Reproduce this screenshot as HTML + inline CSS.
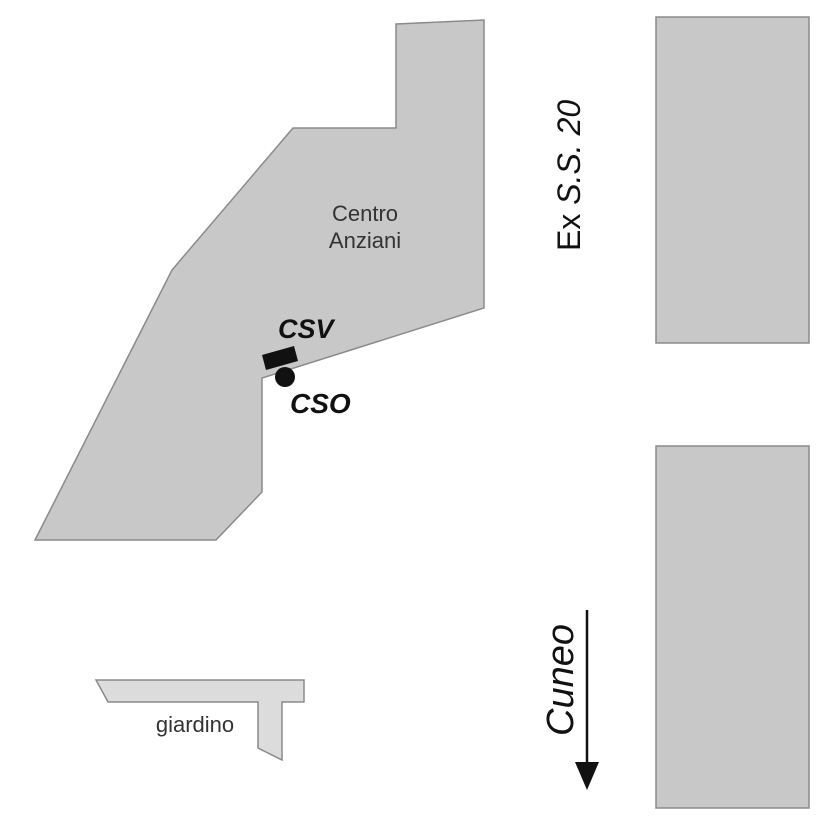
<!DOCTYPE html>
<html><head><style>body{margin:0;background:#fff}svg{display:block}</style></head><body>
<svg width="826" height="826" viewBox="0 0 826 826" xmlns="http://www.w3.org/2000/svg" font-family="Liberation Sans, sans-serif">
<rect width="826" height="826" fill="#fff"/>
<polygon points="396,24 484,20 484,308 262,378 262,492 216,540 35,540 172,270 293,128 396,128" fill="#c8c8c8" stroke="#8a8a8a" stroke-width="1.5"/>
<polygon points="96,680 304,680 304,702 282,702 282,760 258,748 258,702 108,702" fill="#dcdcdc" stroke="#8a8a8a" stroke-width="1.5"/>
<rect x="656" y="17" width="153" height="326" fill="#c8c8c8" stroke="#8a8a8a" stroke-width="1.5"/>
<rect x="656" y="446" width="153" height="362" fill="#c8c8c8" stroke="#8a8a8a" stroke-width="1.5"/>
<text x="365" y="221" font-size="22" fill="#333" text-anchor="middle">Centro</text>
<text x="365" y="248" font-size="22" fill="#333" text-anchor="middle">Anziani</text>
<text x="195" y="732" font-size="22" fill="#333" text-anchor="middle">giardino</text>
<polygon points="262,355 294,346 298,361 266,370" fill="#111"/>
<circle cx="285" cy="377" r="10" fill="#111"/>
<text x="278" y="338" font-size="27" font-weight="bold" font-style="italic" fill="#111">CSV</text>
<text x="290" y="413" font-size="28" font-weight="bold" font-style="italic" fill="#111">CSO</text>
<text transform="translate(580,251) rotate(-90)" font-size="32" fill="#111">Ex <tspan font-style="italic">S.S. 20</tspan></text>
<text transform="translate(573,736) rotate(-90)" font-size="38" font-style="italic" fill="#111">Cuneo</text>
<line x1="587" y1="610" x2="587" y2="765" stroke="#111" stroke-width="2.5"/>
<polygon points="575,762 599,762 587,790" fill="#111"/>
</svg>
</body></html>
